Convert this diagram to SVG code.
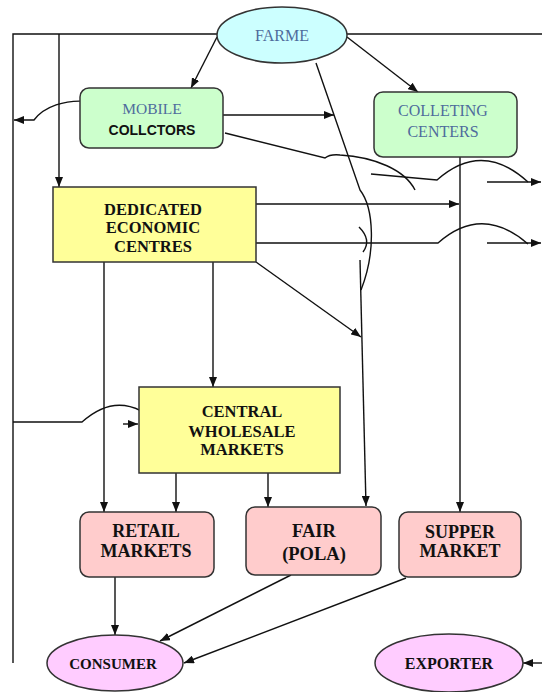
<svg xmlns="http://www.w3.org/2000/svg" width="542" height="692" viewBox="0 0 542 692">
<style>
.ln{fill:none;stroke:#111;stroke-width:1.4}
.arr{marker-end:url(#ah)}
.nd{stroke:#333;stroke-width:1.5}
.blue{font-family:"Liberation Serif",serif;fill:#4f6c9c;text-anchor:middle}
.bs{font-family:"Liberation Serif",serif;font-weight:bold;fill:#111;text-anchor:middle}
.sans{font-family:"Liberation Sans",sans-serif;font-weight:bold;fill:#111;text-anchor:middle}
</style>
<defs>
<marker id="ah" markerUnits="userSpaceOnUse" markerWidth="10" markerHeight="8" refX="10" refY="4" orient="auto">
<path d="M0,0 L10,4 L0,8 z" fill="#111"/>
</marker>
</defs>
<rect width="542" height="692" fill="#fff"/>
<g id="connectors">
<path class="ln" d="M13,663 L13,34 L217,34"/>
<path class="ln" d="M347,34 L542,34"/>
<path class="ln arr" d="M59,34 L59,187"/>
<path class="ln arr" d="M217,37 L191,88"/>
<path class="ln arr" d="M347,37 L418,92"/>
<path class="ln arr" d="M223,115 L334,115"/>
<path class="ln" d="M225,133 L325,158 Q330,154 340,155 C375,157 405,170 415,190"/>
<path class="ln" d="M371,174 L437,180 Q482,140 528,182"/>
<path class="ln arr" d="M487,182 L541,182"/>
<path class="ln arr" d="M125,126 C118,96 55,92 34,120 L14,120"/>
<path class="ln" d="M316,63 L360,190 C374,208 376,252 361,290"/>
<path class="ln" d="M359,227 Q372,240 363,252"/>
<path class="ln arr" d="M360,260 L366,506"/>
<path class="ln arr" d="M256,204 L459,204"/>
<path class="ln" d="M256,243 L438,243 Q482,204 528,244"/>
<path class="ln arr" d="M487,243 L541,243"/>
<path class="ln arr" d="M256,262 L361,337"/>
<path class="ln arr" d="M213,262 L213,387"/>
<path class="ln arr" d="M104,262 L104,512"/>
<path class="ln" d="M13,422 L82,422 Q122,386 162,427"/>
<path class="ln arr" d="M123,424 L138,424"/>
<path class="ln arr" d="M176,473 L176,512"/>
<path class="ln arr" d="M268,473 L268,507"/>
<path class="ln arr" d="M460,157 L460,512"/>
<path class="ln arr" d="M115,577 L115,635"/>
<path class="ln arr" d="M291,575 L160,641"/>
<path class="ln arr" d="M406,578 L184,663"/>
<path class="ln arr" d="M542,663 L523,663"/>
</g>
<g id="farme">
<ellipse class="nd" cx="282" cy="35" rx="65" ry="28" fill="#ccffff"/>
<text class="blue" x="282" y="41" font-size="16">FARME</text>
</g>
<g id="mobile">
<rect class="nd" x="80" y="88" width="143" height="60" rx="9" fill="#ccffcc"/>
<text class="blue" x="152" y="114" font-size="15.5">MOBILE</text>
<text class="sans" x="152" y="135" font-size="14">COLLCTORS</text>
</g>
<g id="colleting">
<rect class="nd" x="374" y="92" width="143" height="65" rx="9" fill="#ccffcc"/>
<text class="blue" x="443" y="116" font-size="16">COLLETING</text>
<text class="blue" x="443" y="137" font-size="16">CENTERS</text>
</g>
<g id="dec">
<rect class="nd" x="53" y="187" width="203" height="75" fill="#ffff99"/>
<text class="bs" x="153" y="215" font-size="16.5">DEDICATED</text>
<text class="bs" x="153" y="233" font-size="16.5">ECONOMIC</text>
<text class="bs" x="153" y="252" font-size="16.5">CENTRES</text>
</g>
<g id="cwm">
<rect class="nd" x="139" y="387" width="201" height="86" fill="#ffff99"/>
<text class="bs" x="242" y="417" font-size="16.5">CENTRAL</text>
<text class="bs" x="242" y="437" font-size="16.5">WHOLESALE</text>
<text class="bs" x="242" y="455" font-size="16.5">MARKETS</text>
</g>
<g id="retail">
<rect class="nd" x="80" y="512" width="134" height="65" rx="9" fill="#ffcccc"/>
<text class="bs" x="146" y="537" font-size="18">RETAIL</text>
<text class="bs" x="146" y="557" font-size="18">MARKETS</text>
</g>
<g id="fair">
<rect class="nd" x="246" y="507" width="135" height="68" rx="9" fill="#ffcccc"/>
<text class="bs" x="314" y="537" font-size="18.5">FAIR</text>
<text class="bs" x="314" y="560" font-size="18.5">(POLA)</text>
</g>
<g id="supper">
<rect class="nd" x="399" y="512" width="122" height="65" rx="9" fill="#ffcccc"/>
<text class="bs" x="460" y="538" font-size="18">SUPPER</text>
<text class="bs" x="460" y="557" font-size="18">MARKET</text>
</g>
<g id="consumer">
<ellipse class="nd" cx="115" cy="663" rx="68" ry="28" fill="#ffccff"/>
<text class="bs" x="113" y="669" font-size="15">CONSUMER</text>
</g>
<g id="exporter">
<ellipse class="nd" cx="449" cy="663" rx="74" ry="29" fill="#ffccff"/>
<text class="bs" x="449" y="669" font-size="16">EXPORTER</text>
</g>
</svg>
